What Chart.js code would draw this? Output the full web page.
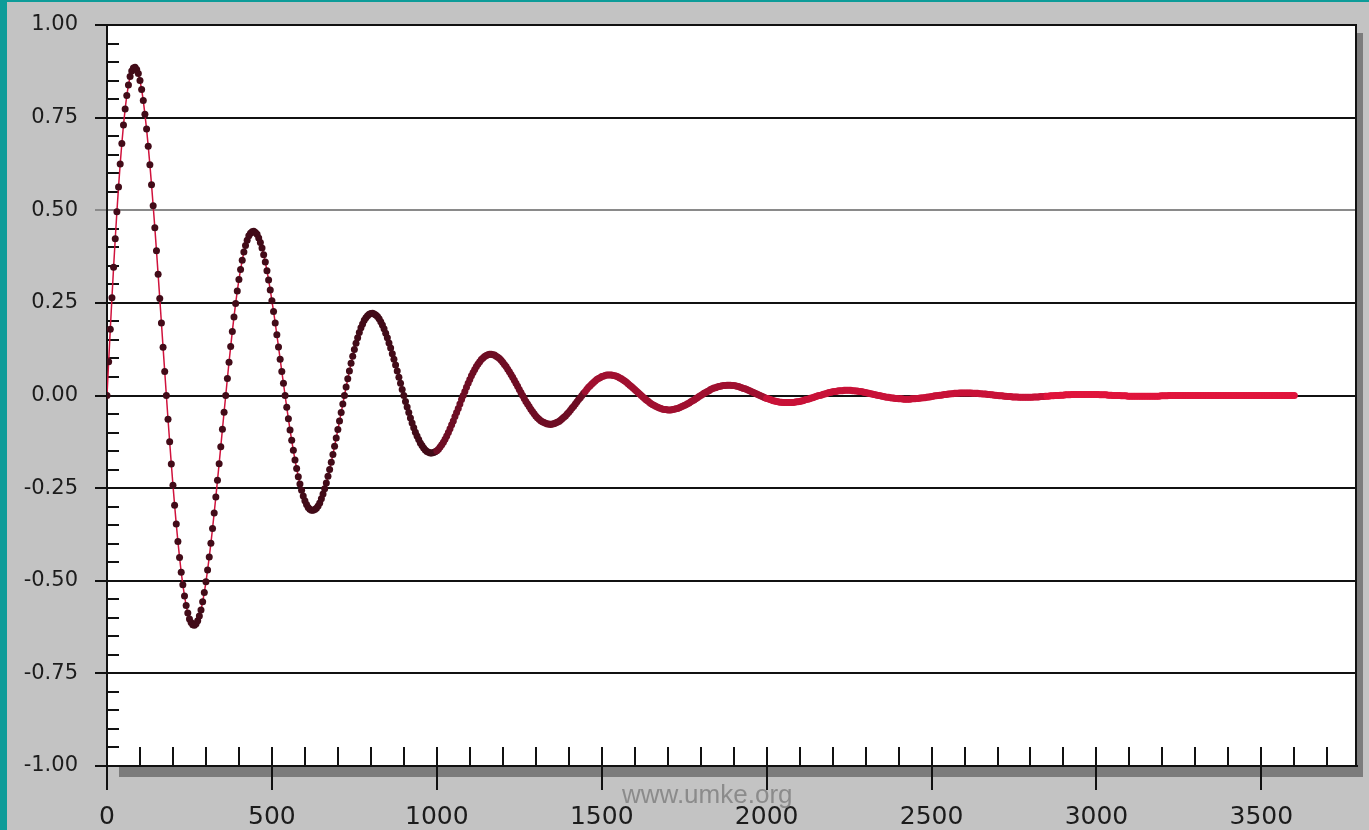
<!DOCTYPE html>
<html>
<head>
<meta charset="utf-8">
<script src="https://cdn.jsdelivr.net/npm/chart.js@4.4.1/dist/chart.umd.min.js"></script>
<style>
  html, body { margin: 0; padding: 0; background: #c3c3c3; overflow: hidden; }
  canvas { display: block; }
</style>
</head>
<body>
<canvas id="chart" width="1369" height="830"></canvas>
<script>
// samples every 5 units along x, one array per swing (360 units each)
const xStep = 5;

const cycle1 = [0, 0.091, 0.179, 0.264, 0.346, 0.423, 0.496, 0.563, 0.625, 0.680, 0.730, 0.773, 0.810, 0.838, 0.861, 0.876, 0.884, 0.886,
  0.880, 0.869, 0.850, 0.826, 0.796, 0.759, 0.719, 0.673, 0.623, 0.569, 0.512, 0.453, 0.391, 0.327, 0.262, 0.196, 0.130, 0.065,
  0, -0.064, -0.125, -0.185, -0.242, -0.296, -0.347, -0.394, -0.437, -0.477, -0.511, -0.541, -0.567, -0.587, -0.603, -0.613, -0.619, -0.620,
  -0.616, -0.608, -0.595, -0.579, -0.557, -0.532, -0.503, -0.471, -0.436, -0.399, -0.359, -0.317, -0.274, -0.229, -0.184, -0.138, -0.091, -0.045];
const cycle2 = [0, 0.046, 0.090, 0.132, 0.173, 0.212, 0.248, 0.282, 0.313, 0.340, 0.365, 0.387, 0.405, 0.419, 0.431, 0.438, 0.442, 0.443,
  0.440, 0.435, 0.425, 0.413, 0.398, 0.380, 0.360, 0.337, 0.312, 0.285, 0.256, 0.227, 0.196, 0.164, 0.131, 0.098, 0.065, 0.033,
  0, -0.032, -0.063, -0.093, -0.121, -0.148, -0.174, -0.197, -0.219, -0.239, -0.256, -0.271, -0.284, -0.294, -0.302, -0.307, -0.310, -0.310,
  -0.308, -0.304, -0.298, -0.290, -0.279, -0.266, -0.252, -0.236, -0.218, -0.200, -0.180, -0.159, -0.137, -0.115, -0.092, -0.069, -0.046, -0.023];
const cycle3 = [0, 0.023, 0.045, 0.066, 0.087, 0.106, 0.124, 0.141, 0.156, 0.170, 0.183, 0.193, 0.203, 0.210, 0.215, 0.219, 0.221, 0.222,
  0.220, 0.217, 0.213, 0.207, 0.199, 0.190, 0.180, 0.168, 0.156, 0.142, 0.128, 0.113, 0.098, 0.082, 0.066, 0.049, 0.033, 0.016,
  0, -0.016, -0.031, -0.046, -0.061, -0.074, -0.087, -0.099, -0.109, -0.119, -0.128, -0.135, -0.142, -0.147, -0.151, -0.153, -0.155, -0.155,
  -0.154, -0.152, -0.149, -0.145, -0.139, -0.133, -0.126, -0.118, -0.109, -0.100, -0.090, -0.079, -0.069, -0.057, -0.046, -0.035, -0.023, -0.011];
const cycle4 = [0, 0.011, 0.022, 0.033, 0.043, 0.053, 0.062, 0.070, 0.078, 0.085, 0.091, 0.097, 0.101, 0.105, 0.108, 0.110, 0.111, 0.111,
  0.110, 0.109, 0.106, 0.103, 0.100, 0.095, 0.090, 0.084, 0.078, 0.071, 0.064, 0.057, 0.049, 0.041, 0.033, 0.025, 0.016, 0.008,
  0, -0.008, -0.016, -0.023, -0.030, -0.037, -0.043, -0.049, -0.055, -0.060, -0.064, -0.068, -0.071, -0.073, -0.075, -0.077, -0.077, -0.078,
  -0.077, -0.076, -0.074, -0.072, -0.070, -0.067, -0.063, -0.059, -0.055, -0.050, -0.045, -0.040, -0.034, -0.029, -0.023, -0.017, -0.011, -0.006];
const cycle5 = [0, 0.006, 0.011, 0.017, 0.022, 0.026, 0.031, 0.035, 0.039, 0.043, 0.046, 0.048, 0.051, 0.052, 0.054, 0.055, 0.055, 0.055,
  0.055, 0.054, 0.053, 0.052, 0.050, 0.047, 0.045, 0.042, 0.039, 0.036, 0.032, 0.028, 0.024, 0.020, 0.016, 0.012, 0.008, 0.004,
  0, -0.004, -0.008, -0.012, -0.015, -0.019, -0.022, -0.025, -0.027, -0.030, -0.032, -0.034, -0.035, -0.037, -0.038, -0.038, -0.039, -0.039,
  -0.039, -0.038, -0.037, -0.036, -0.035, -0.033, -0.031, -0.029, -0.027, -0.025, -0.022, -0.020, -0.017, -0.014, -0.012, -0.009, -0.006, -0.003];
const cycle6 = [0, 0.003, 0.006, 0.008, 0.011, 0.013, 0.016, 0.018, 0.020, 0.021, 0.023, 0.024, 0.025, 0.026, 0.027, 0.027, 0.028, 0.028,
  0.028, 0.027, 0.027, 0.026, 0.025, 0.024, 0.022, 0.021, 0.019, 0.018, 0.016, 0.014, 0.012, 0.010, 0.008, 0.006, 0.004, 0.002,
  0, -0.002, -0.004, -0.006, -0.008, -0.009, -0.011, -0.012, -0.014, -0.015, -0.016, -0.017, -0.018, -0.018, -0.019, -0.019, -0.019, -0.019,
  -0.019, -0.019, -0.019, -0.018, -0.017, -0.017, -0.016, -0.015, -0.014, -0.012, -0.011, -0.010, -0.009, -0.007, -0.006, -0.004, -0.003, -0.001];
const cycle7 = [0, 0.001, 0.003, 0.004, 0.005, 0.007, 0.008, 0.009, 0.010, 0.011, 0.011, 0.012, 0.013, 0.013, 0.013, 0.014, 0.014, 0.014,
  0.014, 0.014, 0.013, 0.013, 0.012, 0.012, 0.011, 0.011, 0.010, 0.009, 0.008, 0.007, 0.006, 0.005, 0.004, 0.003, 0.002, 0.001,
  0, -0.001, -0.002, -0.003, -0.004, -0.005, -0.005, -0.006, -0.007, -0.007, -0.008, -0.008, -0.009, -0.009, -0.009, -0.010, -0.010, -0.010,
  -0.010, -0.010, -0.009, -0.009, -0.009, -0.008, -0.008, -0.007, -0.007, -0.006, -0.006, -0.005, -0.004, -0.004, -0.003, -0.002, -0.001, -0.001];
const cycle8 = [0, 0.001, 0.001, 0.002, 0.003, 0.003, 0.004, 0.004, 0.005, 0.005, 0.006, 0.006, 0.006, 0.007, 0.007, 0.007, 0.007, 0.007,
  0.007, 0.007, 0.007, 0.006, 0.006, 0.006, 0.006, 0.005, 0.005, 0.004, 0.004, 0.004, 0.003, 0.003, 0.002, 0.002, 0.001, 0.001,
  0, -0.001, -0.001, -0.001, -0.002, -0.002, -0.003, -0.003, -0.003, -0.004, -0.004, -0.004, -0.004, -0.005, -0.005, -0.005, -0.005, -0.005,
  -0.005, -0.005, -0.005, -0.005, -0.004, -0.004, -0.004, -0.004, -0.003, -0.003, -0.003, -0.002, -0.002, -0.002, -0.001, -0.001, -0.001, 0];
const cycle9 = [0, 0, 0.001, 0.001, 0.001, 0.002, 0.002, 0.002, 0.002, 0.003, 0.003, 0.003, 0.003, 0.003, 0.003, 0.003, 0.003, 0.003,
  0.003, 0.003, 0.003, 0.003, 0.003, 0.003, 0.003, 0.003, 0.002, 0.002, 0.002, 0.002, 0.002, 0.001, 0.001, 0.001, 0, 0,
  0, 0, 0, -0.001, -0.001, -0.001, -0.001, -0.002, -0.002, -0.002, -0.002, -0.002, -0.002, -0.002, -0.002, -0.002, -0.002, -0.002,
  -0.002, -0.002, -0.002, -0.002, -0.002, -0.002, -0.002, -0.002, -0.002, -0.001, -0.001, -0.001, -0.001, -0.001, 0, 0, 0, 0];
const cycle10 = [0, 0, 0, 0, 0, 0, 0, 0, 0, 0, 0, 0, 0, 0, 0, 0, 0, 0,
  0, 0, 0, 0, 0, 0, 0, 0, 0, 0, 0, 0, 0, 0, 0, 0, 0, 0,
  0, 0, 0, 0, 0, 0, 0, 0, 0, 0, 0, 0, 0, 0, 0, 0, 0, 0,
  0, 0, 0, 0, 0, 0, 0, 0, 0, 0, 0, 0, 0, 0, 0, 0, 0, 0,
  0];

const yTickValues = [-1, -0.75, -0.5, -0.25, 0, 0.25, 0.5, 0.75, 1];
const xTickValues = [0, 500, 1000, 1500, 2000, 2500, 3000, 3500];
const yMinorTicks = [0.95, 0.9, 0.85, 0.8, 0.7, 0.65, 0.6, 0.55, 0.45, 0.4, 0.35, 0.3, 0.2, 0.15, 0.1, 0.05,
  -0.05, -0.1, -0.15, -0.2, -0.3, -0.35, -0.4, -0.45, -0.55, -0.6, -0.65, -0.7, -0.8, -0.85, -0.9, -0.95];
const xMinorTicks = [100, 200, 300, 400, 600, 700, 800, 900, 1100, 1200, 1300, 1400, 1600, 1700, 1800, 1900,
  2100, 2200, 2300, 2400, 2600, 2700, 2800, 2900, 3100, 3200, 3300, 3400, 3600, 3700];
const watermark = 'www.umke.org';

const yValues = [].concat(cycle1, cycle2, cycle3, cycle4, cycle5, cycle6, cycle7, cycle8, cycle9, cycle10);
const points = yValues.map((y, i) => ({ x: i * xStep, y: y }));

// dots go from dark maroon to bright crimson as the swing flattens
function dotColor(ctx) {
  const x = ctx.raw ? ctx.raw.x : 0;
  if (x < 1000) return '#420b18';
  if (x < 1450) return '#6e0d24';
  if (x < 2000) return '#a01030';
  if (x < 2850) return '#c81238';
  return '#e0143c';
}

const framePlugin = {
  id: 'frame',
  beforeDraw(chart) {
    const ctx = chart.ctx, a = chart.chartArea;
    ctx.save();
    ctx.fillStyle = '#c3c3c3';
    ctx.fillRect(0, 0, chart.width, chart.height);
    ctx.fillStyle = '#0d9c99';
    ctx.fillRect(0, 0, 7, chart.height);
    ctx.fillRect(0, 0, chart.width, 2);
    ctx.fillStyle = '#ffffff';
    ctx.fillRect(a.left, a.top, a.right - a.left, a.bottom - a.top);
    // drop shadow of the plot box
    ctx.fillStyle = '#7c7c7c';
    ctx.fillRect(a.left + 12, a.bottom, a.right - a.left - 6, 11);
    ctx.fillRect(a.right, a.top + 8, 6, a.bottom - a.top + 3);
    ctx.restore();
  },
  beforeDatasetsDraw(chart) {
    const ctx = chart.ctx, a = chart.chartArea;
    const xs = chart.scales.x, ys = chart.scales.y;
    ctx.save();
    ctx.strokeStyle = '#111111';
    ctx.lineWidth = 2;
    ctx.beginPath();
    ctx.moveTo(a.right - 1, a.top);
    ctx.lineTo(a.right - 1, a.bottom);
    yMinorTicks.forEach(v => {
      const py = Math.round(ys.getPixelForValue(v));
      ctx.moveTo(a.left, py);
      ctx.lineTo(a.left + 12, py);
    });
    xMinorTicks.concat(xTickValues).forEach(v => {
      const px = Math.round(xs.getPixelForValue(v));
      ctx.moveTo(px, a.bottom - 19);
      ctx.lineTo(px, a.bottom);
    });
    ctx.stroke();
    ctx.restore();
  },
  afterDraw(chart) {
    const ctx = chart.ctx;
    ctx.save();
    ctx.fillStyle = 'rgba(120,120,120,0.75)';
    ctx.font = '26px "Liberation Sans", Arial, sans-serif';
    ctx.textBaseline = 'alphabetic';
    ctx.fillText(watermark, 622, 803);
    ctx.restore();
  }
};

new Chart(document.getElementById('chart'), {
  type: 'line',
  data: {
    datasets: [{
      data: points,
      borderColor: '#d0123c',
      borderWidth: 1.5,
      pointRadius: 3.5,
      pointBorderWidth: 0,
      pointHoverRadius: 0,
      pointBackgroundColor: dotColor,
      tension: 0
    }]
  },
  plugins: [framePlugin],
  options: {
    responsive: false,
    animation: false,
    devicePixelRatio: 1,
    layout: { padding: { top: 25, right: 12, left: 0, bottom: 0 } },
    plugins: { legend: { display: false }, tooltip: { enabled: false }, title: { display: false } },
    scales: {
      x: {
        type: 'linear',
        min: 0,
        max: 3790,
        afterFit: s => { s.height = 64; s.paddingLeft = 0; s.paddingRight = 0; },
        afterBuildTicks: s => { s.ticks = xTickValues.map(v => ({ value: v })); },
        grid: { drawOnChartArea: false, drawTicks: true, tickLength: 24, color: '#111111', lineWidth: 2 },
        border: { display: true, color: '#111111', width: 2 },
        ticks: {
          color: '#1c1c1c',
          padding: 12,
          maxRotation: 0,
          font: { family: 'DejaVu Sans', size: 25 },
          callback: v => String(v)
        }
      },
      y: {
        type: 'linear',
        min: -1,
        max: 1,
        afterFit: s => { s.width = 107; s.paddingTop = 0; s.paddingBottom = 0; },
        afterBuildTicks: s => { s.ticks = yTickValues.map(v => ({ value: v })); },
        grid: {
          drawTicks: true,
          tickLength: 12,
          lineWidth: 2,
          color: c => (c.tick && c.tick.value === 0.5) ? '#8a8a8a' : '#111111'
        },
        border: { display: true, color: '#111111', width: 2 },
        ticks: {
          color: '#1c1c1c',
          padding: 17,
          font: { family: 'DejaVu Sans', size: 21, lineHeight: 1 },
          callback: v => v.toFixed(2)
        }
      }
    }
  }
});
</script>
</body>
</html>
